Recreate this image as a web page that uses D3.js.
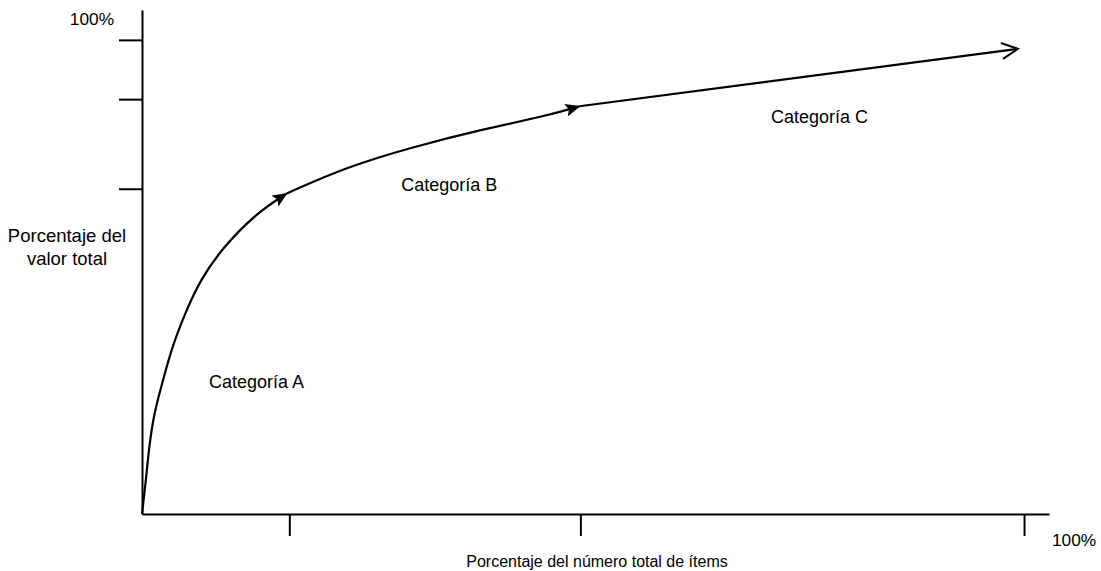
<!DOCTYPE html>
<html>
<head>
<meta charset="utf-8">
<script src="https://cdn.jsdelivr.net/npm/d3@7"></script>
<style>
  html, body { margin: 0; padding: 0; background: #fff; }
  svg text { font-family: "Liberation Sans", Arial, sans-serif; font-size: 18px; fill: #000; }
</style>
</head>
<body>
<svg id="chart" width="1101" height="571"></svg>
<script>
// ABC curve: cumulative share of value vs cumulative share of items (%)
const segA = [[0, 0], [0.45, 7.2], [0.8, 14.1], [1.36, 21.3], [2.4, 28.3], [3.4, 35.2],
              [4.9, 42.4], [6.6, 49.4], [9.2, 56.3], [13.0, 63.5], [16.4, 67.6]];
const segB = [[16.4, 67.6], [23.2, 73.2], [30.7, 77.4], [38.3, 81.0], [45.9, 84.0], [49.6, 86.0]];
const segC = [[49.6, 86.0], [99.3, 98.1]];

const xTicks = [16.7, 49.7, 100];
const yTicks = [68.6, 87.5, 100];

const categories = [
  { name: "Categoría A", x: 7.6, y: 26.5 },
  { name: "Categoría B", x: 29.4, y: 68.2 },
  { name: "Categoría C", x: 71.3, y: 82.5 }
];

const svg = d3.select("#chart");

const x = d3.scaleLinear().domain([0, 102.83]).range([142, 1049]);
const y = d3.scaleLinear().domain([0, 106.3]).range([514, 10]);

// arrowheads
const defs = svg.append("defs");
defs.append("marker")
  .attr("id", "tri").attr("markerUnits", "userSpaceOnUse")
  .attr("viewBox", "0 0 15 13").attr("refX", 14).attr("refY", 6.5)
  .attr("markerWidth", 15).attr("markerHeight", 13).attr("orient", "auto")
  .append("path").attr("d", "M0,0 L15,6.5 L0,13 L3,6.5 Z").attr("fill", "#000");
defs.append("marker")
  .attr("id", "open").attr("markerUnits", "userSpaceOnUse")
  .attr("viewBox", "-1 -1 19 19").attr("refX", 16).attr("refY", 8)
  .attr("markerWidth", 19).attr("markerHeight", 19).attr("orient", "auto")
  .append("path").attr("d", "M0,0 L16,8 L0,16").attr("fill", "none")
  .attr("stroke", "#000").attr("stroke-width", 2);

// axes
const yAxis = d3.axisLeft(y).tickValues(yTicks).tickSize(23).tickFormat("").tickSizeOuter(0);
const xAxis = d3.axisBottom(x).tickValues(xTicks).tickSize(22).tickFormat("").tickSizeOuter(0);

const gy = svg.append("g").attr("transform", "translate(142,0)").call(yAxis);
const gx = svg.append("g").attr("transform", "translate(0,514)").call(xAxis);
[gy, gx].forEach(g => {
  g.select(".domain").attr("stroke", "#000").attr("stroke-width", 2);
  g.selectAll(".tick line").attr("stroke", "#000").attr("stroke-width", 2);
});

// curve
const smooth = d3.line().x(d => x(d[0])).y(d => y(d[1])).curve(d3.curveBasis);
const straight = d3.line().x(d => x(d[0])).y(d => y(d[1]));
svg.append("path").attr("d", smooth(segA)).attr("fill", "none").attr("stroke", "#000")
  .attr("stroke-width", 2.2).attr("marker-end", "url(#tri)");
svg.append("path").attr("d", smooth(segB)).attr("fill", "none").attr("stroke", "#000")
  .attr("stroke-width", 2.2).attr("marker-end", "url(#tri)");
svg.append("path").attr("d", straight(segC))
  .attr("fill", "none").attr("stroke", "#000")
  .attr("stroke-width", 2.2).attr("marker-end", "url(#open)");

// labels
svg.append("text").attr("x", 114).attr("y", 25).attr("text-anchor", "end")
  .style("font-size", "17.3px").text("100%");
svg.append("text").attr("x", 1052).attr("y", 546).style("font-size", "17.3px").text("100%");
svg.append("text").attr("x", 67).attr("y", 242).attr("text-anchor", "middle")
  .style("font-size", "18.5px").text("Porcentaje del");
svg.append("text").attr("x", 67).attr("y", 265).attr("text-anchor", "middle")
  .style("font-size", "18.5px").text("valor total");
svg.append("text").attr("x", 597).attr("y", 567).attr("text-anchor", "middle")
  .style("font-size", "16px").text("Porcentaje del número total de ítems");

svg.selectAll("text.cat").data(categories).enter().append("text")
  .attr("class", "cat")
  .attr("x", d => x(d.x)).attr("y", d => y(d.y))
  .text(d => d.name);
</script>
</body>
</html>
